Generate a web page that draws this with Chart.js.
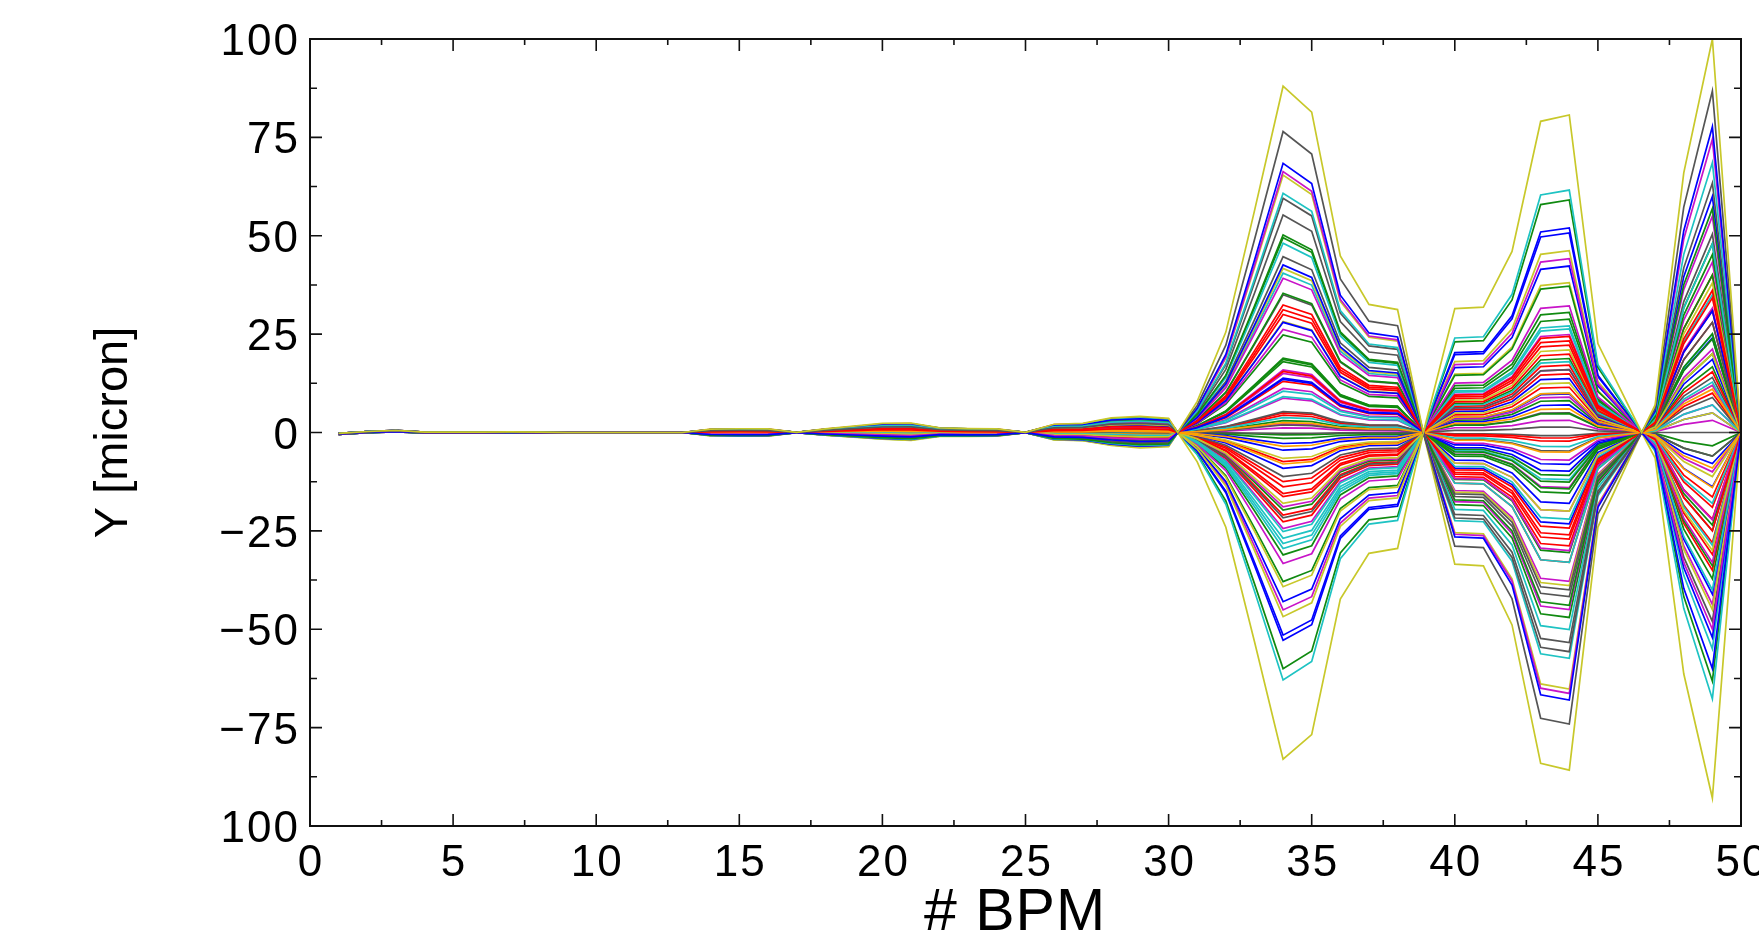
<!DOCTYPE html>
<html>
<head>
<meta charset="utf-8">
<script src="https://cdn.jsdelivr.net/npm/chart.js@4.4.1/dist/chart.umd.min.js"></script>
<style>
html,body{margin:0;padding:0;background:#fff;}
#wrap{width:1759px;height:941px;position:relative;}
</style>
</head>
<body>
<div id="wrap"><canvas id="orbitChart"></canvas></div>
<script>
// ── Axis ticks ──
const xTicks=[0,5,10,15,20,25,30,35,40,45,50];
const xTickLabels=['0','5','10','15','20','25','30','35','40','45','50'];
const yTicks=[100,75,50,25,0,-25,-50,-75,-100];
const yTickLabels=['100','75','50','25','0','\u221225','\u221250','\u221275','100'];

// ── BPM positions and profile shapes ──
const bpmLeft=[1,2,3,4,5,6,7,8,9,10,11,12,13,14,15,16,17,18,19,20,21,22,23,24,25,26,27,28,29,30];
const leftBase=[-0.35,0.1,0.35,0,0,0,0.05,0,0,0,0,0,0,0,0,0,0,0.1,0.2,0.3,0.2,0.1,0,0,0,0.1,0.1,0.2,0.1,0];
const leftSpread=[0.15,0.15,0.2,0.1,0.1,0.1,0.1,0.1,0,0,0,0,0,0.85,0.95,0.9,0.05,0.8,1.4,2.0,2.2,1.1,1.0,0.9,0.05,2.0,2.2,3.5,4.0,3.6];
const lobe1Bpm=[30.32,31,32,33,34,35,36,37,38,38.9];
const lobe1Shape=[0,0.09,0.29,0.64,1,0.925,0.51,0.37,0.355,0];
const lobe2Bpm=[40,41,42,43,44,45,46.53];
const lobe2Shape=[0.39,0.395,0.57,0.98,1,0.28,0];
const lobe3Bpm=[47,48,49,50];
const lobe3Shape=[0.07,0.66,1,0];

// ── Traces: colour, value at BPM 34 / 44 / 49, and small ripple before BPM 30 ──
const palette={Y:'#c8c82a',K:'#555555',B:'#0000ff',C:'#1ec3c3',R:'#ff0000',M:'#c814c8',O:'#ffa000',G:'#108a10'};
const traceColor=[
 'Y','K','B','C','R','M','O','G',
 'Y','K','B','C','R','M','O','G',
 'Y','K','B','C','R','M','O','G',
 'Y','K','B','C','R','M','G',
 'Y','K','B','C','R','M','G',
 'Y','K','B','C','R','M','G',
 'Y','K','B','C','R','M','G',
 'Y','K','B','C','R','M','G',
 'Y','K','B','C','R','M','G',
 'K','B','C','R','M','G',
 'B','C','R','M','G',
 'R','M','G',
 'R','M','G',
 'R','G'];
const peak34=[
 88,76.5,68.4,60.8,32.4,66.3,2.5,50.2,
 65.4,59.5,42.6,48.1,31.2,39.2,-3.5,49.5,
 41.7,55.3,28,40.5,30,26.2,-8,35.4,
 28.2,44.7,13.8,10.5,15.5,15.9,24.8,
 -6.6,35,13.5,9.1,13,15,18.9,
 -18,5.3,-2.8,3.8,5,11.2,18.6,
 -39.2,1.9,-4.5,-25.2,4.4,8.7,18,
 -46.8,-0.2,-9.1,-26.9,-7.4,2.2,3.0,
 -83,-11.2,-43,-28.2,-12.5,1.2,-0.6,
 -21.7,-51.5,-29.5,-13.8,-18.9,-1.5,
 -52.8,-62.9,-15.5,-24.4,-19.7,
 -16.3,-33.3,-31.1,
 -21,-45.1,-37.9,
 -22.7,-60];
const peak44=[
 80.7,-74.1,-68,61.6,24.4,-66.3,6,59.1,
 -65.2,-55.7,52,-57.4,23.3,44.2,-5,-43.9,
 46.2,-53.4,50.7,-50.1,22.2,32.2,10,37.2,
 12.6,-41.7,13.7,27.1,19.9,24.9,30.5,
 21,-40,42.3,18,-24.3,-7,-14.3,
 -38.9,16,9.8,-3.6,-2.2,16,-15.4,
 38.1,1.4,7,26.3,-1.4,3.1,-12.6,
 -20,-0.8,-8.1,-22,17.1,-14,4.8,
 -85.8,-4.7,-9.8,10,14.9,9,8.1,
 5,-23.2,-33,-26,-30,-10.9,
 -18,-12,11.5,-20,18.8,
 -27.1,-37.8,28.8,
 -28.8,-45,-30.5,
 -33,-47];
const peak49=[
 100,86.8,77.7,68.6,36.1,74.5,-9,56.9,
 38,63.4,-60,47.9,34.2,-50,11,45.2,
 -11.2,50.4,-52.1,-40,-25,43.3,-14,40,
 20,28,30.9,12.8,28,-22.2,25.1,
 -30,-25,-41.1,7,31,31.6,23.8,
 5,8.9,18.6,25,15.4,12,20,
 -45,0,-7.9,-28.7,10,21.2,16.7,
 12,-6,-13.8,-18,-16.4,3.1,-3.4,
 -92.9,14,24,35,-19,-10,-6,
 -48,60,-55,-22,-33,48,
 5,-67.7,-28,55,-23.5,
 -31,-43.7,-33.9,
 -35,7,-37.2,
 40,-63.2];
const ripple=[
 1.0,0.55,-0.6,0.7,0.2,-0.45,0.1,-0.8,
 -0.3,-0.5,0.85,-0.2,0.35,0.6,-0.15,0.75,
 0.5,-0.7,0.4,-0.85,-0.25,0.3,0.05,-0.55,
 -0.65,0.15,-0.9,0.45,-0.4,0.8,0.6,
 0.25,-0.1,0.65,-0.5,0.55,-0.2,-0.35,
 -0.2,0.35,-0.3,0.9,-0.7,0.1,0.45,
 0.75,-0.35,0.2,-0.65,0.7,-0.75,-0.15,
 -0.85,0.8,-0.45,0.3,0.05,0.5,0.9,
 -1.0,-0.25,0.1,-0.05,-0.55,0.4,-0.6,
 0.65,-0.8,0.55,0.85,-0.9,0.25,
 0.5,-0.4,-0.3,0.15,-0.95,
 0.6,-0.1,0.35,
 -0.85,0.7,-0.45,
 0.95,0];

// ── Build one polyline per trace ──
const datasets=traceColor.map((c,i)=>{
  const pts=[];
  bpmLeft.forEach((b,k)=>pts.push({x:b,y:leftBase[k]+ripple[i]*leftSpread[k]}));
  lobe1Bpm.forEach((b,k)=>pts.push({x:b,y:peak34[i]*lobe1Shape[k]}));
  lobe2Bpm.forEach((b,k)=>pts.push({x:b,y:peak44[i]*lobe2Shape[k]}));
  lobe3Bpm.forEach((b,k)=>pts.push({x:b,y:peak49[i]*lobe3Shape[k]}));
  return {data:pts,borderColor:palette[c],borderWidth:1.7,pointRadius:0,tension:0,fill:false};
});

// ── Frame with inward ticks on all four sides, labels and titles ──
const axisDecor={
  id:'axisDecor',
  afterDatasetsDraw(chart){
    const {ctx,chartArea:a,scales:{x,y}}=chart;
    const mid=arr=>arr.slice(1).map((v,i)=>(v+arr[i])/2);
    ctx.save();
    ctx.strokeStyle='#111';
    ctx.lineWidth=2;
    ctx.strokeRect(a.left,a.top,a.right-a.left,a.bottom-a.top);
    ctx.lineWidth=1.6;
    ctx.beginPath();
    const xt=(v,len)=>{const px=x.getPixelForValue(v);ctx.moveTo(px,a.bottom);ctx.lineTo(px,a.bottom-len);ctx.moveTo(px,a.top);ctx.lineTo(px,a.top+len);};
    const yt=(v,len)=>{const py=y.getPixelForValue(v);ctx.moveTo(a.left,py);ctx.lineTo(a.left+len,py);ctx.moveTo(a.right,py);ctx.lineTo(a.right-len,py);};
    xTicks.forEach(v=>xt(v,12));
    mid(xTicks).forEach(v=>xt(v,6));
    yTicks.forEach(v=>yt(v,12));
    mid(yTicks).forEach(v=>yt(v,7));
    ctx.stroke();

    ctx.fillStyle='#000';
    ctx.font='44px "Liberation Sans", Arial, sans-serif';
    ctx.letterSpacing='2px';
    ctx.textBaseline='alphabetic';
    ctx.textAlign='right';
    yTicks.forEach((v,i)=>ctx.fillText(yTickLabels[i],a.left-10,y.getPixelForValue(v)+16));
    ctx.textAlign='center';
    xTicks.forEach((v,i)=>ctx.fillText(xTickLabels[i],x.getPixelForValue(v)+1,a.bottom+50));

    ctx.letterSpacing='1px';
    ctx.font='59px "Liberation Sans", Arial, sans-serif';
    ctx.fillText('# BPM',1015,930);

    ctx.letterSpacing='0px';
    ctx.translate(114,(a.top+a.bottom)/2);
    ctx.rotate(-Math.PI/2);
    ctx.font='47px "Liberation Sans", Arial, sans-serif';
    ctx.textBaseline='middle';
    ctx.fillText('Y [micron]',0,0);
    ctx.restore();
  }
};

new Chart(document.getElementById('orbitChart'),{
  type:'line',
  data:{datasets:datasets},
  options:{
    responsive:true,maintainAspectRatio:false,animation:false,devicePixelRatio:1,
    layout:{padding:{left:310,right:18,top:39,bottom:115}},
    plugins:{legend:{display:false},tooltip:{enabled:false}},
    scales:{
      x:{type:'linear',min:0,max:50,display:false},
      y:{min:-100,max:100,display:false}
    }
  },
  plugins:[axisDecor]
});
</script>
</body>
</html>
